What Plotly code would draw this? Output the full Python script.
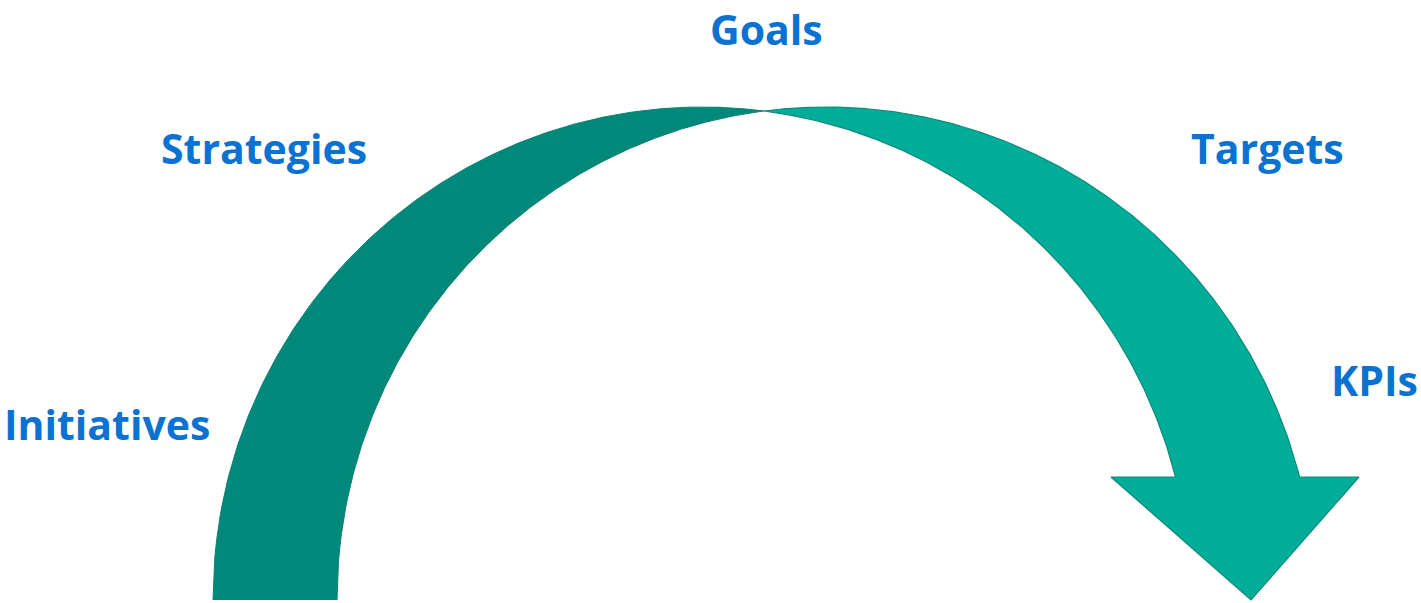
import numpy as np
import plotly.graph_objects as go

# ---- data ----
labels = ["Goals", "Strategies", "Targets", "KPIs", "Initiatives"]
label_x = [766, 264, 1267, 1374, 107]
label_y = [0, 148, 148, 380, 424]
label_anchor = ["top", "middle", "middle", "middle", "middle"]

# ---- geometry (pixel space, y downward) ----
W, H = 1421, 603
base_y = 600
rx, ry = 489, 493
cxA, cxB = 702, 826          # two equal ellipses, offset by band width
head_y = 477
head_left, head_right, tip_x = 1111, 1359, 1251

def ell_x(cx, y, side):
    t = np.clip((base_y - y) / ry, 0, 1)
    return cx + side * rx * np.sqrt(1 - t**2)

def ell_y(cx, x):
    t = np.clip((x - cx) / rx, -1, 1)
    return base_y - ry * np.sqrt(1 - t**2)

x_cross = (cxA + cxB) / 2

# left band: outer = left half of A up to crossing, inner = B back down
xa = np.linspace(cxA - rx, x_cross, 300)
ya = ell_y(cxA, xa)
xb = np.linspace(x_cross, cxB - rx, 300)
yb = ell_y(cxB, xb)
left_x = np.concatenate([xa, xb])
left_y = np.concatenate([ya, yb])

# right band + arrowhead
xi = np.linspace(x_cross, ell_x(cxA, head_y, 1), 300)
yi = ell_y(cxA, xi)
xo = np.linspace(ell_x(cxB, head_y, 1), x_cross, 300)
yo = ell_y(cxB, xo)
right_x = np.concatenate([xi, [head_left, tip_x, head_right], xo])
right_y = np.concatenate([yi, [head_y, base_y, head_y], yo])

fig = go.Figure()
fig.add_trace(go.Scatter(x=left_x, y=left_y, fill="toself", mode="lines",
                         fillcolor="#00897A", line=dict(color="#0A8071", width=1),
                         hoverinfo="skip", showlegend=False))
fig.add_trace(go.Scatter(x=right_x, y=right_y, fill="toself", mode="lines",
                         fillcolor="#00AD99", line=dict(color="#0A8A7A", width=1.2),
                         hoverinfo="skip", showlegend=False))

for t, x, y, a in zip(labels, label_x, label_y, label_anchor):
    fig.add_annotation(x=x, y=y, text="<b>%s</b>" % t, showarrow=False,
                       font=dict(family="Open Sans", size=41, color="#0B72D2"),
                       xanchor="center", yanchor=a, borderpad=0)

fig.update_xaxes(range=[0, W], visible=False, fixedrange=True)
fig.update_yaxes(range=[H, 0], visible=False, fixedrange=True)
fig.update_layout(width=W, height=H, margin=dict(l=0, r=0, t=0, b=0),
                  plot_bgcolor="white", paper_bgcolor="white")
fig.write_html("out.html", config={"displayModeBar": False},
               post_script="document.body.style.margin='0';document.body.style.overflow='hidden';")
